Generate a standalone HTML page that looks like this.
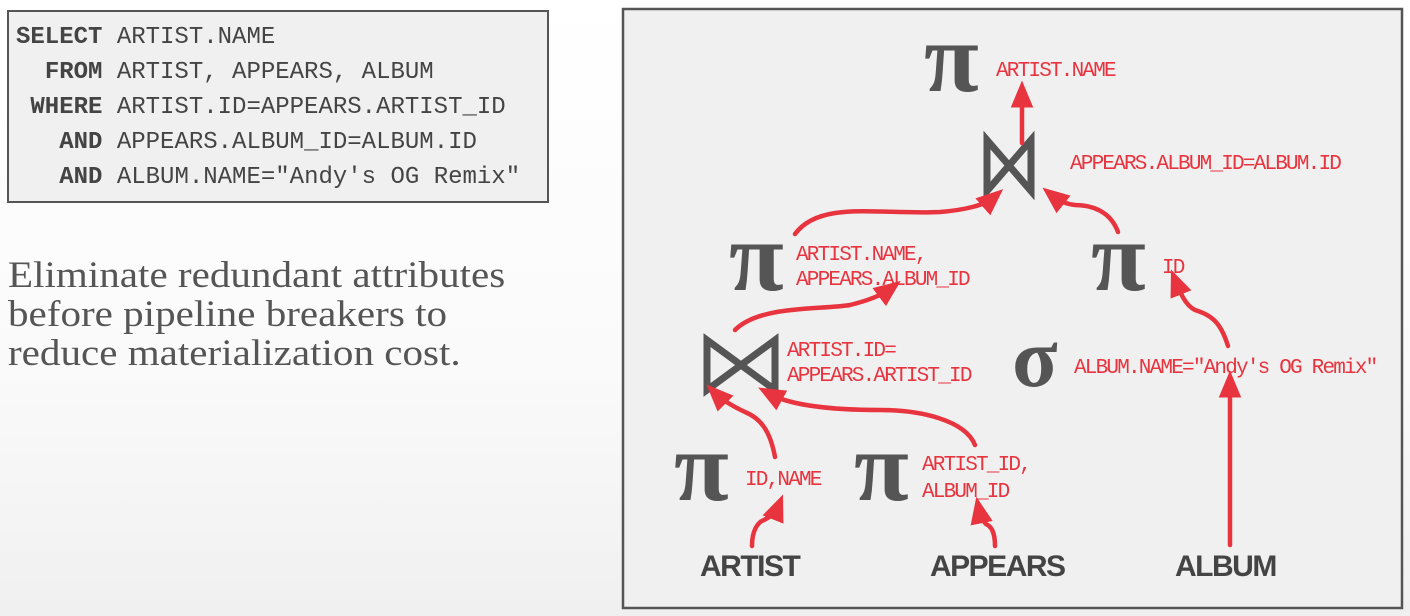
<!DOCTYPE html>
<html><head><meta charset="utf-8"><style>
html,body{margin:0;padding:0;}
body{width:1410px;height:616px;overflow:hidden;background:linear-gradient(180deg,#fff 0%,#fafafa 60%,#f0f0f0 100%);position:relative;font-family:"Liberation Sans",sans-serif;}
.sql{position:absolute;left:7px;top:10px;width:538px;height:189px;border:2px solid #555;background:#f0f0f0;}
.sql div{position:absolute;font-family:"Liberation Mono",monospace;font-size:24px;color:#444;white-space:pre;}
.txt{position:absolute;left:8px;top:256px;font-family:"Liberation Serif",serif;font-size:37px;line-height:39px;color:#555;transform:scaleX(1.11);transform-origin:0 0;white-space:nowrap;}
</style></head><body>
<div class="sql">
<div style="left:7px;top:12px"><b>SELECT</b> ARTIST.NAME</div>
<div style="left:7px;top:47px">  <b>FROM</b> ARTIST, APPEARS, ALBUM</div>
<div style="left:7px;top:82px"> <b>WHERE</b> ARTIST.ID=APPEARS.ARTIST_ID</div>
<div style="left:7px;top:117px">   <b>AND</b> APPEARS.ALBUM_ID=ALBUM.ID</div>
<div style="left:7px;top:152px">   <b>AND</b> ALBUM.NAME="Andy's OG Remix"</div>
</div>
<div class="txt">Eliminate redundant attributes<br>before pipeline breakers to<br>reduce materialization cost.</div>
<svg width="1410" height="616" style="position:absolute;left:0;top:0">
<defs><marker id="a" markerWidth="6" markerHeight="6" refX="3" refY="3" orient="auto" markerUnits="strokeWidth"><path d="M0,0.5 L6,3 L0,5.5 Z" fill="#e8343f"/></marker></defs>
<rect x="623" y="9" width="779" height="599" fill="#f0f0f0" stroke="#555" stroke-width="2.5"/>
<g font-family="Liberation Serif,serif" font-size="100" font-weight="bold" fill="#555">
<text x="924" y="91">π</text>
<text x="729" y="290">π</text>
<text x="1091" y="290">π</text>
<text x="674" y="500">π</text>
<text x="854" y="500">π</text>
<text x="1012" y="386" font-size="84">σ</text>
</g>
<g fill="none" stroke="#555" stroke-width="7" stroke-linejoin="miter">
<path d="M987,140 L987,191 L1031,140 L1031,191 Z"/>
<path d="M707,340 L707,390 L775,340 L775,390 Z"/>
</g>
<g font-family="Liberation Mono,monospace" font-size="21" letter-spacing="-1.8" fill="#e8343f">
<text x="996" y="76">ARTIST.NAME</text>
<text x="1070" y="169">APPEARS.ALBUM_ID=ALBUM.ID</text>
<text x="796" y="260">ARTIST.NAME,</text>
<text x="796" y="285">APPEARS.ALBUM_ID</text>
<text x="1162" y="273">ID</text>
<text x="787" y="356">ARTIST.ID=</text>
<text x="787" y="381">APPEARS.ARTIST_ID</text>
<text x="1074" y="373">ALBUM.NAME="Andy's OG Remix"</text>
<text x="745" y="485">ID,NAME</text>
<text x="922" y="470">ARTIST_ID,</text>
<text x="922" y="497">ALBUM_ID</text>
</g>
<g font-family="Liberation Sans,sans-serif" font-size="30" font-weight="bold" fill="#444" letter-spacing="-1.5">
<text x="700" y="576">ARTIST</text>
<text x="930" y="576">APPEARS</text>
<text x="1175" y="576">ALBUM</text>
</g>
<g fill="none" stroke="#e8343f" stroke-width="4.5" stroke-linecap="round" marker-end="url(#a)">
<path d="M1022,143 L1022,94"/>
<path d="M795,234 C820,200 880,215 940,212 C965,210 985,205 993,198"/>
<path d="M1118,232 C1110,210 1090,205 1075,205 C1065,204 1058,200 1053,196"/>
<path d="M735,330 C760,305 820,310 850,305 C870,300 882,295 890,289"/>
<path d="M1228,346 C1220,320 1210,315 1195,310 C1185,305 1180,292 1176,282"/>
<path d="M775,457 C770,430 760,418 745,412 C730,405 720,398 716,394"/>
<path d="M975,445 C965,420 920,410 880,410 C830,410 790,405 770,394"/>
<path d="M752,546 C752,530 758,522 764,520 C772,516 776,512 778,507"/>
<path d="M995,546 C995,530 990,526 986,524 C982,520 980,515 979,510"/>
<path d="M1230,545 L1230,384"/>
</g>
</svg>
</body></html>
